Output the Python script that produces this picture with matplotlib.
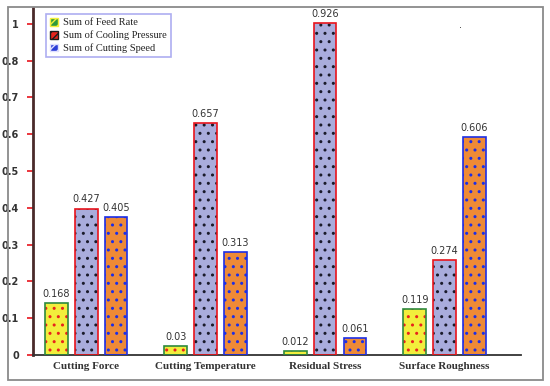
import matplotlib
matplotlib.use("Agg")
import matplotlib.pyplot as plt
from matplotlib.patches import Patch, Rectangle
import numpy as np

categories = ["Cutting Force", "Cutting Temperature", "Residual Stress", "Surface Roughness"]
series = ["Sum of Feed Rate", "Sum of Cooling Pressure", "Sum of Cutting Speed"]
# bar heights as drawn (on the chart's axis scale)
feed_rate = [0.141, 0.024, 0.011, 0.125]
cooling_pressure = [0.397, 0.630, 0.902, 0.258]
cutting_speed = [0.375, 0.280, 0.046, 0.592]
# value labels printed above bars
feed_rate_lbl = ["0.168", "0.03", "0.012", "0.119"]
cooling_pressure_lbl = ["0.427", "0.657", "0.926", "0.274"]
cutting_speed_lbl = ["0.405", "0.313", "0.061", "0.606"]
ytick_vals = [0, 0.1, 0.2, 0.3, 0.4, 0.5, 0.6, 0.7, 0.8, 0.9]
ytick_lbls = ["0", "0.1", "0.2", "0.3", "0.4", "0.5", "0.6", "0.7", "0.8", "1"]

fig = plt.figure(figsize=(5.5, 3.86), dpi=100)
fig.patches.append(Rectangle((8/550, 1-380/386), (543-8)/550, (380-7)/386,
                             transform=fig.transFigure, fill=False,
                             edgecolor="#8a8a8a", linewidth=1.3))
ax = fig.add_axes([33/550, (386-355)/386, (521-33)/550, (355-8)/386])

plt.rcParams['hatch.linewidth'] = 1.0
x = np.arange(len(categories))
w = 0.19
step = 0.25
styles = [
    (feed_rate, feed_rate_lbl, "#f2ee3c", "#e8231c", "#2e8a3e"),
    (cooling_pressure, cooling_pressure_lbl, "#a9acdc", "#1a1a2a", "#e8141c"),
    (cutting_speed, cutting_speed_lbl, "#ee8a36", "#1c2ee6", "#1c2ee6"),
]
for i, (vals, lbls, fc, hc, ec) in enumerate(styles):
    pos = x + (i - 1) * step
    ax.bar(pos, vals, w, color=fc, edgecolor=hc, hatch="..", linewidth=0, zorder=2)
    ax.bar(pos, vals, w, fill=False, edgecolor=ec, linewidth=1.2, zorder=3)
    for p, v, t in zip(pos, vals, lbls):
        ax.text(p, v + 0.012, t, ha="center", va="bottom", fontsize=7,
                color="#333333", family="DejaVu Sans")

ax.set_xlim(-0.445, 3.64)
ax.set_ylim(0, 0.943)
ax.set_yticks(ytick_vals)
ax.set_yticklabels(ytick_lbls, fontsize=7, fontweight="bold", color="#333333")
ax.tick_params(axis="y", direction="out", length=4, width=1.2, color="#e8141c", pad=6)
ax.set_xticks(x)
ax.set_xticklabels(categories, family="Liberation Serif", fontsize=8,
                   fontweight="bold", color="#333333")
ax.tick_params(axis="x", length=0, pad=5)
for s in ["top", "right"]:
    ax.spines[s].set_visible(False)
ax.spines["left"].set_color("#4a2a2a")
ax.spines["left"].set_linewidth(2)
ax.spines["bottom"].set_color("#333333")
ax.spines["bottom"].set_linewidth(1.3)

handles = [
    Patch(facecolor="#2e9a3e", edgecolor="#f2ee3c", hatch="////", label=series[0]),
    Patch(facecolor="#e8231c", edgecolor="#1a1a1a", hatch="////", label=series[1]),
    Patch(facecolor="#2c3ed6", edgecolor="#e0e0ff", hatch="////", label=series[2]),
]
leg = ax.legend(handles=handles, loc="upper left", bbox_to_anchor=(8/488, 1 - 1/347),
                prop={"family": "Liberation Serif", "size": 7.5},
                frameon=True, fancybox=False, handlelength=0.8, handleheight=0.8,
                handletextpad=0.5, borderpad=0.35, labelspacing=0.3)
leg.get_frame().set_edgecolor("#9a9aee")
leg.get_frame().set_linewidth(1.2)
for t in leg.get_texts():
    t.set_color("#222222")

fig.text(461/550, 1 - 25/386, ".", fontsize=7, color="#333333", ha="center", va="center")

fig.savefig("out.png", dpi=100)
